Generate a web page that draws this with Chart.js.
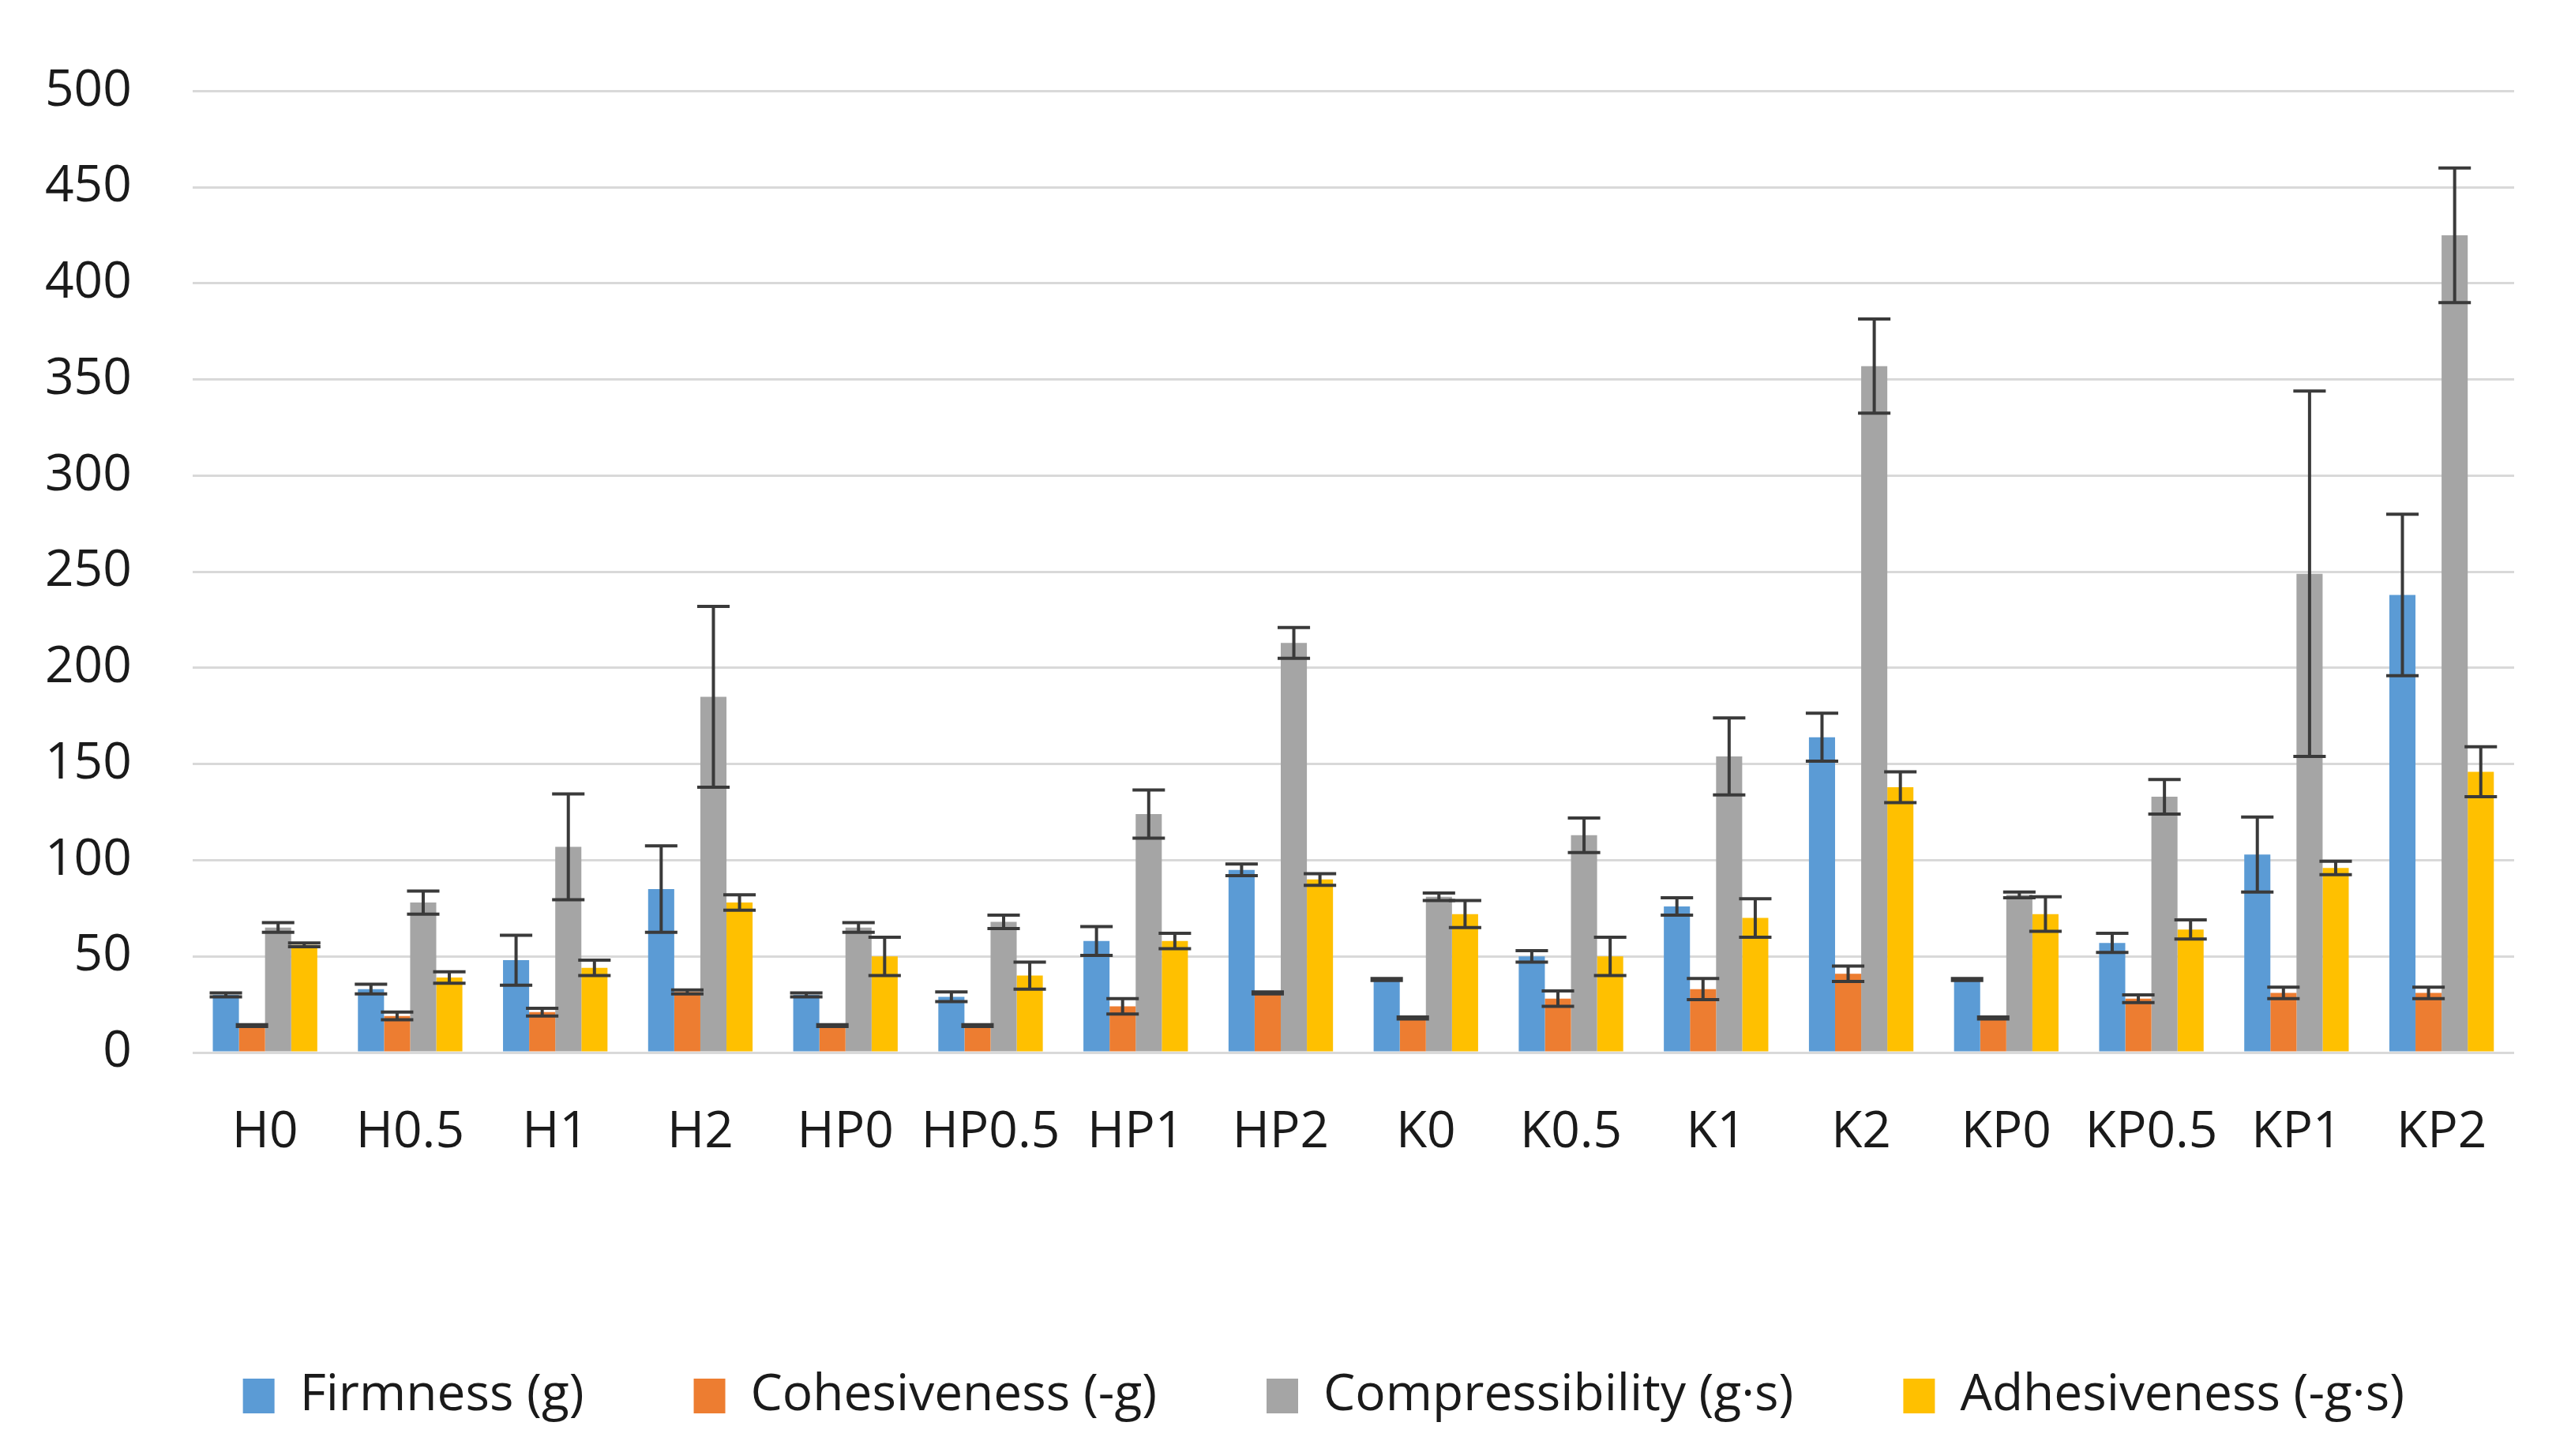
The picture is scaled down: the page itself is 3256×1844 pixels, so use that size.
<!DOCTYPE html>
<html>
<head>
<meta charset="utf-8">
<title>Texture profile</title>
<script src="https://cdn.jsdelivr.net/npm/chart.js@4.4.1/dist/chart.umd.min.js"></script>
<style>
  html, body { margin: 0; padding: 0; background: #ffffff; }
  #texture-chart { display: block; }
</style>
</head>
<body>
<canvas id="texture-chart" width="3256" height="1844"></canvas>
<script>
const categories = ["H0", "H0.5", "H1", "H2", "HP0", "HP0.5", "HP1", "HP2",
  "K0", "K0.5", "K1", "K2", "KP0", "KP0.5", "KP1", "KP2"];

const firmness = [30, 33, 48, 85, 30, 29, 58, 95, 38, 50, 76, 164, 38, 57, 103, 238];
const firmnessErr = [1, 2.5, 13, 22.5, 1, 2.5, 7.5, 3, 0.5, 3, 4.5, 12.5, 0.5, 5, 19.5, 42];

const cohesiveness = [14, 19, 21, 31.5, 14, 14, 24, 31, 18, 28, 33, 41, 18, 28, 31, 31];
const cohesivenessErr = [0.5, 2, 2, 1, 0.5, 0.5, 4, 0.5, 0.5, 4, 5.5, 4, 0.5, 2, 3, 3];

const compressibility = [65, 78, 107, 185, 65, 68, 124, 213, 81, 113, 154, 357, 82, 133, 249, 425];
const compressibilityErr = [2.5, 6, 27.5, 47, 2.5, 3.5, 12.5, 8, 2, 9, 20, 24.5, 1.5, 9, 95, 35];

const adhesiveness = [56, 39, 44, 78, 50, 40, 58, 90, 72, 50, 70, 138, 72, 64, 96, 146];
const adhesivenessErr = [1, 3, 4, 4, 10, 7, 4, 3, 7, 10, 10, 8, 9, 5, 3.5, 13];

// y axis: 0 to 500 every 50
const yMin = 0;
const yMax = 500;
const yStep = 50;

const seriesNames = ["Firmness (g)", "Cohesiveness (-g)", "Compressibility (g·s)", "Adhesiveness (-g·s)"];
const seriesColors = ["#5B9BD5", "#ED7D31", "#A5A5A5", "#FFC000"];

const fontFamily = "'Open Sans', 'Noto Sans', sans-serif";
const textColor = "#1a1a1a";

// draws the +/- error bars on top of every bar
const errorBarsPlugin = {
  id: "errorBars",
  afterDatasetsDraw(chart) {
    const ctx = chart.ctx;
    const yScale = chart.scales.y;
    ctx.save();
    ctx.strokeStyle = "#3a3a3a";
    ctx.lineWidth = 4;
    chart.data.datasets.forEach((ds, i) => {
      const meta = chart.getDatasetMeta(i);
      meta.data.forEach((bar, j) => {
        const err = ds.errors[j];
        const top = yScale.getPixelForValue(ds.data[j] + err);
        const bottom = yScale.getPixelForValue(ds.data[j] - err);
        const half = bar.width / 2 + 4;
        ctx.beginPath();
        ctx.moveTo(bar.x, top);
        ctx.lineTo(bar.x, bottom);
        ctx.moveTo(bar.x - half, top);
        ctx.lineTo(bar.x + half, top);
        ctx.moveTo(bar.x - half, bottom);
        ctx.lineTo(bar.x + half, bottom);
        ctx.stroke();
      });
    });
    ctx.restore();
  },
};

function makeDataset(index, values, errors) {
  return {
    label: seriesNames[index],
    data: values,
    errors: errors,
    backgroundColor: seriesColors[index],
    borderWidth: 0,
    categoryPercentage: 0.72,
    barPercentage: 1.0,
  };
}

const ctx = document.getElementById("texture-chart");

const myChart = new Chart(ctx, {
  type: "bar",
  data: {
    labels: categories,
    datasets: [
      makeDataset(0, firmness, firmnessErr),
      makeDataset(1, cohesiveness, cohesivenessErr),
      makeDataset(2, compressibility, compressibilityErr),
      makeDataset(3, adhesiveness, adhesivenessErr),
    ],
  },
  options: {
    responsive: false,
    animation: false,
    devicePixelRatio: 1,
    layout: {
      padding: { top: 113, left: -20, right: 72, bottom: 34 },
    },
    plugins: {
      tooltip: { enabled: false },
      legend: {
        position: "bottom",
        align: "end",
        labels: {
          boxWidth: 40,
          boxHeight: 44,
          padding: 139,
          color: textColor,
          font: { family: fontFamily, size: 64 },
        },
      },
    },
    scales: {
      x: {
        grid: { display: false, drawTicks: false },
        border: { display: false },
        ticks: {
          color: textColor,
          padding: 63,
          maxRotation: 0,
          font: { family: fontFamily, size: 64 },
        },
        afterFit(scale) {
          scale.height = 264;
        },
      },
      y: {
        min: yMin,
        max: yMax,
        grid: { color: "#d9d9d9", lineWidth: 3, drawTicks: false },
        border: { display: false },
        ticks: {
          stepSize: yStep,
          color: textColor,
          padding: 77,
          font: { family: fontFamily, size: 64 },
        },
      },
    },
  },
  plugins: [errorBarsPlugin],
});
</script>
</body>
</html>
